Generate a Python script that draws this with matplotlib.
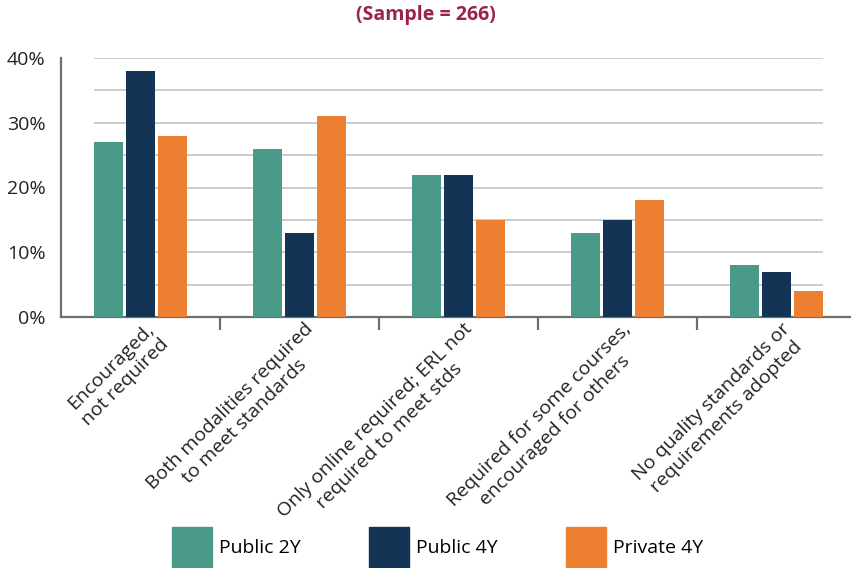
import matplotlib
matplotlib.use("Agg")
import matplotlib.pyplot as plt
import numpy as np
from matplotlib.patches import Patch

plt.rcParams['font.family'] = ['Open Sans', 'DejaVu Sans']

categories = ["Encouraged,\nnot required",
              "Both modalities required\nto meet standards",
              "Only online required; ERL not\nrequired to meet stds",
              "Required for some courses,\nencouraged for others",
              "No quality standards or\nrequirements adopted"]
series_names = ["Public 2Y", "Public 4Y", "Private 4Y"]
public_2y = [27, 26, 22, 13, 8]
public_4y = [38, 13, 22, 15, 7]
private_4y = [28, 31, 15, 18, 4]
yticks = [0, 10, 20, 30, 40]
ytick_labels = ["0%", "10%", "20%", "30%", "40%"]
title = "(Sample = 266)"

colors = ["#4A9A8A", "#133454", "#ED7F30"]

W, H = 851, 568
fig = plt.figure(figsize=(W/100, H/100), dpi=100)
ax = fig.add_axes([61/W, 1-317/H, 1-61/W, (317-58)/H])

x = np.arange(len(categories))
offsets = [-0.2, 0.0, 0.2]
bw = 0.182
for vals, off, c, name in zip([public_2y, public_4y, private_4y], offsets, colors, series_names):
    ax.bar(x + off, vals, width=bw, color=c, label=name, zorder=3)

ax.set_xlim(-0.5, 4.47)
ax.set_ylim(0, 40)
for g in range(5, 41, 5):
    ax.hlines(g, -0.291, 4.291, color="#C8C8C8", lw=1.3, zorder=1)

for s in ["top", "right"]:
    ax.spines[s].set_visible(False)
for s in ["left", "bottom"]:
    ax.spines[s].set_color("#6E6E6E")
    ax.spines[s].set_linewidth(1.6)

ax.set_yticks(yticks)
ax.set_yticklabels(ytick_labels, fontsize=14, color="#222222")
ax.tick_params(axis="y", length=0, pad=11)

ax.set_xticks(x)
ax.set_xticklabels([])
ax.tick_params(axis="x", which="major", length=0)
ax.set_xticks(np.arange(0.5, 4.0, 1.0), minor=True)
ax.tick_params(axis="x", which="minor", length=9, width=1.6, color="#6E6E6E", direction="out")

for xi, lab in zip(x, categories):
    ax.annotate(lab, xy=(xi, 0), xycoords="data", xytext=(3, -2), textcoords="offset points",
                rotation=45, ha="right", va="top", rotation_mode="anchor",
                multialignment="center", fontsize=14, color="#222222", linespacing=1.25)

fig.text(0.5, 1-15/H, title, ha="center", va="center", fontsize=14, fontweight="bold", color="#9B2248")

handles = [Patch(facecolor=c, edgecolor=c) for c in colors]
fig.legend(handles, series_names, loc="lower center", bbox_to_anchor=(0.514, 0.0), ncol=3,
           frameon=False, fontsize=14, handlelength=2.06, handleheight=2.79, columnspacing=3.5,
           handletextpad=0.36, borderaxespad=0.05, borderpad=0.0)

fig.savefig("out.png", dpi=100)
